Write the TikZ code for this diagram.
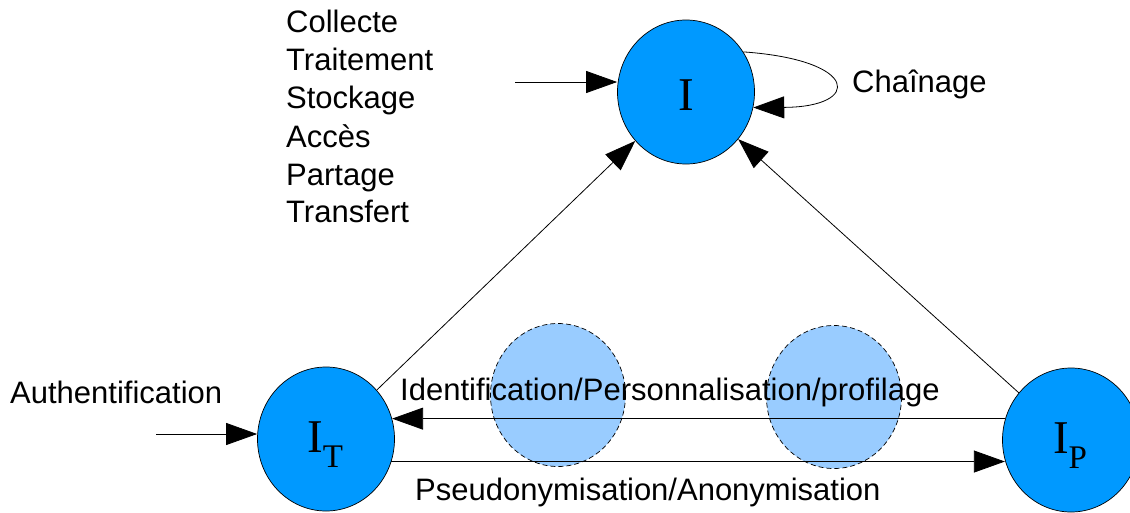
\documentclass[tikz,border=0pt]{standalone}
\usepackage{fontspec}
\setmainfont{Liberation Sans}
\newfontfamily\romanI{Liberation Serif}
\usetikzlibrary{arrows.meta,shapes.geometric}
\definecolor{deepblue}{HTML}{0099FF}
\definecolor{paleblue}{HTML}{99CCFF}
\tikzset{
  state/.style={ellipse, draw=black, line width=0.7pt, fill=deepblue,
    minimum width=137pt, minimum height=144pt, inner sep=0pt},
  ghost/.style={ellipse, draw=black, dashed, dash pattern=on 5pt off 3pt,
    line width=0.7pt, fill=paleblue, minimum width=135pt, minimum height=143pt},
  arr/.style={line width=0.8pt, -{Triangle[length=31pt,width=22pt]}},
  txt/.style={anchor=base west, inner sep=0pt,
    font=\fontsize{31}{36}\selectfont},
  lbl/.style={anchor=base, inner sep=0pt, font=\romanI\fontsize{47}{50}\selectfont},
}
\newcommand{\subT}[1]{{\fontsize{33}{36}\selectfont\raisebox{-15pt}{#1}}}
\begin{document}
\begin{tikzpicture}[x=1pt,y=-1pt]
\useasboundingbox (0,0) rectangle (1130,512);
\clip (0,0) rectangle (1130,512);

% faded intermediate stages
\node[ghost] (g1) at (558,395) {};
\node[ghost] (g2) at (834,397) {};

% the three identity states
\node[state] (I)  at (686,92)  {};
\node[state] (IT) at (326,439) {};
\node[state] (IP) at (1071,440) {};
\node[lbl] (Il)  at (686,110) {I};
\node[lbl] (ITl) at (325,452) {I\subT{T}};
\node[lbl] (IPl) at (1070,453) {I\subT{P}};

% operations on I
\node[txt] (ops1) at (286,32.3) {Collecte};
\node[txt] (ops2) at (286,70.5) {Traitement};
\node[txt] (ops3) at (286,108.8) {Stockage};
\node[txt] (ops4) at (286,147) {Accès};
\node[txt] (ops5) at (286,185) {Partage};
\node[txt] (ops6) at (286,222) {Transfert};
\coordinate (inI) at (515,82);
\draw[arr] (inI) -- (inI -| I.west);

% chaining loop
\node[txt] (chain) at (852,92) {Chaînage};
\draw[arr] (I.35) .. controls (860,60) and (862,107) .. (I.-13);

% links towards I
\draw[arr] (IT) -- (I);
\draw[arr] (IP) -- (I);

% authentication input
\node[txt] (auth) at (10,403) {Authentification};
\coordinate (inT) at (156,434);
\draw[arr] (inT) -- (inT -| IT.west);

% horizontal transformations
\draw[arr] (IP.162) -- (IP.162 -| IT.17);
\node[txt] (ident) at (400,400) {Identification/Personnalisation/profilage};
\draw[arr] (IT.-19) -- (IT.-19 -| IP.197);
\node[txt] (pseudo) at (415,500) {Pseudonymisation/Anonymisation};
\end{tikzpicture}
\end{document}
